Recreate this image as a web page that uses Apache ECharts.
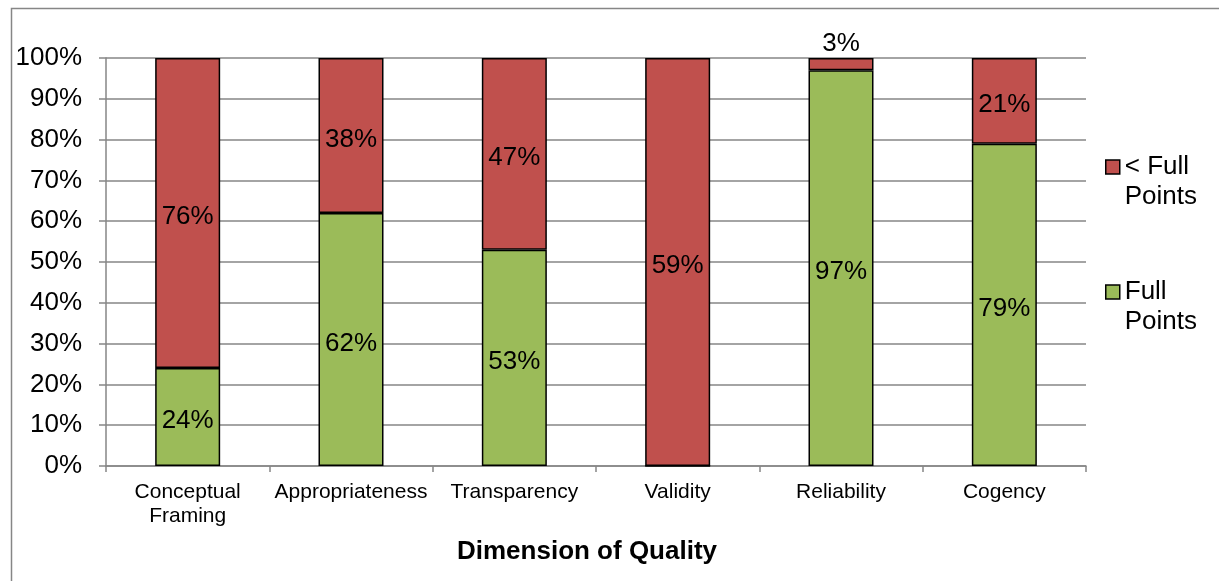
<!DOCTYPE html>
<html>
<head>
<meta charset="utf-8">
<script src="https://cdn.jsdelivr.net/npm/echarts@6/dist/echarts.min.js"></script>
<style>
  html, body { margin: 0; padding: 0; background: #fff; }
  #chart { width: 1219px; height: 581px; }
</style>
</head>
<body>
<div id="chart"></div>
<script>
// Quality dimensions on the category axis
const categories = ['Conceptual\nFraming', 'Appropriateness', 'Transparency', 'Validity', 'Reliability', 'Cogency'];
// Percent of studies receiving full points / less than full points
const fullPoints = [24, 62, 53, 0, 97, 79];
const lessThanFull = [76, 38, 47, 59, 3, 21];
const yTicks = [0, 10, 20, 30, 40, 50, 60, 70, 80, 90, 100];

const FONT = '"Liberation Sans", Arial, sans-serif';
const GRAY = '#868686';

// Bars are stacked to 100%: each segment's height is its share of the column total
const totals = fullPoints.map((v, i) => v + lessThanFull[i]);
function segmentData(arr, smallAbove) {
  return arr.map((v, i) => {
    const share = totals[i] ? v / totals[i] * 100 : 0;
    const item = { value: share, raw: v };
    if (smallAbove && share > 0 && share < 6) {
      item.label = { position: 'top', distance: 1, offset: [0, 0] };
    }
    return item;
  });
}

const labelCfg = {
  show: true,
  position: 'inside',
  offset: [0, 4],
  color: '#000',
  fontSize: 26,
  fontFamily: FONT,
  formatter: p => (p.data.raw ? p.data.raw + '%' : '')
};

// Legend text: a leading blank line keeps the swatch level with the first text line
const legendCommon = {
  orient: 'vertical', left: 1100,
  itemWidth: 14, itemHeight: 14, icon: 'rect', itemGap: 0,
  formatter: n => '\n' + n.replace(' Points', '\nPoints'),
  textStyle: { fontSize: 26, fontFamily: FONT, color: '#000', lineHeight: 30 },
  itemStyle: { borderColor: '#000', borderWidth: 1.5 }
};

const chart = echarts.init(document.getElementById('chart'), null, { renderer: 'canvas' });
chart.setOption({
  animation: false,
  backgroundColor: '#fff',
  grid: { left: 106, right: 133, top: 58, bottom: 115, containLabel: false },
  graphic: [{
    type: 'polyline',
    shape: { points: [[11.5, 581], [11.5, 8.5], [1219, 8.5]] },
    style: { stroke: GRAY, lineWidth: 1.5, fill: null },
    silent: true
  }],
  legend: [
    Object.assign({ data: ['< Full Points'], top: 117 }, legendCommon),
    Object.assign({ data: ['Full Points'], top: 242 }, legendCommon)
  ],
  xAxis: {
    type: 'category',
    data: categories,
    name: 'Dimension of Quality',
    nameLocation: 'middle',
    nameGap: 73,
    nameTextStyle: { fontSize: 26, fontWeight: 'bold', fontFamily: FONT, color: '#000', padding: [0, 18, 0, 0] },
    axisLine: { show: true, lineStyle: { color: GRAY, width: 1.5 } },
    axisTick: { show: true, length: 6, lineStyle: { color: GRAY, width: 1.5 } },
    axisLabel: { fontSize: 21, fontFamily: FONT, color: '#000', margin: 14, lineHeight: 24, interval: 0 }
  },
  yAxis: {
    type: 'value',
    min: yTicks[0],
    max: yTicks[yTicks.length - 1],
    interval: 10,
    axisLine: { show: true, lineStyle: { color: GRAY, width: 1.5 } },
    axisTick: { show: true, length: 7, lineStyle: { color: GRAY, width: 1.5 } },
    axisLabel: { fontSize: 26, fontFamily: FONT, color: '#000', margin: 24, formatter: '{value}%' },
    splitLine: { show: true, lineStyle: { color: GRAY, width: 1.5 } }
  },
  series: [
    {
      name: 'Full Points',
      type: 'bar',
      stack: 'total',
      barWidth: 65,
      data: segmentData(fullPoints, false),
      itemStyle: { color: '#9BBB59', borderColor: '#000', borderWidth: 1.5 },
      label: labelCfg
    },
    {
      name: '< Full Points',
      type: 'bar',
      stack: 'total',
      barWidth: 65,
      data: segmentData(lessThanFull, true),
      itemStyle: { color: '#C0504D', borderColor: '#000', borderWidth: 1.5 },
      label: labelCfg
    }
  ]
});
</script>
</body>
</html>
